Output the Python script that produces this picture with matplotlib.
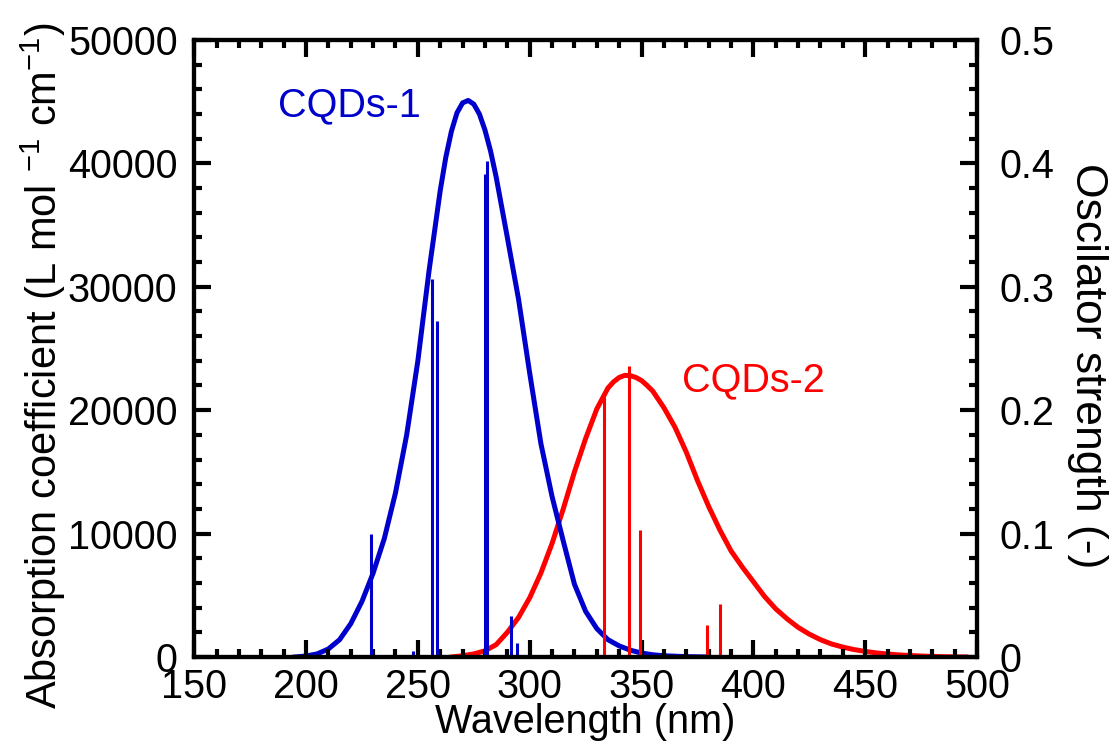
import matplotlib
matplotlib.use('Agg')
import matplotlib.pyplot as plt
from matplotlib.ticker import MultipleLocator

plt.rcParams['font.family'] = ['Liberation Sans', 'DejaVu Sans']
plt.rcParams['mathtext.fontset'] = 'custom'
plt.rcParams['mathtext.rm'] = 'Liberation Sans'
plt.rcParams['mathtext.default'] = 'regular'

# broadened absorption spectra (L mol-1 cm-1)
wl_1 = [195, 200, 205, 210, 215, 220, 225, 230, 235, 240, 245, 250, 255, 260,
        262.5, 265, 267.5, 270, 272.5, 275, 277.5, 280, 282.5, 285, 290, 295,
        300, 305, 310, 315, 320, 325, 330, 335, 340, 345, 350, 355, 360, 370,
        380]
abs_1 = [0, 80, 250, 650, 1400, 2700, 4500, 6800, 9600, 13300, 18000, 24000,
         31300, 37800, 40500, 42600, 44100, 44900, 45100, 44800, 44000, 42700,
         41000, 38900, 34000, 29000, 23000, 17300, 13000, 9400, 5900, 3700,
         2300, 1400, 900, 550, 320, 180, 100, 30, 0]

wl_2 = [265, 270, 275, 280, 285, 290, 295, 300, 305, 310, 315, 320, 325, 330,
        335, 337.5, 340, 342.5, 345, 347.5, 350, 352.5, 355, 360, 365, 370,
        375, 380, 385, 390, 395, 400, 405, 410, 415, 420, 425, 430, 435, 440,
        445, 450, 455, 460, 465, 470, 475, 480, 485, 490, 495]
abs_2 = [0, 100, 250, 500, 1000, 2000, 3200, 4800, 6800, 9200, 12000, 15000,
         17700, 20100, 21800, 22300, 22650, 22820, 22800, 22650, 22400, 22000,
         21550, 20200, 18600, 16600, 14300, 12200, 10300, 8600, 7300, 6100,
         4900, 3900, 3100, 2400, 1850, 1400, 1050, 800, 600, 450, 330, 240,
         170, 120, 80, 50, 25, 10, 0]

# computed transitions (oscillator strength)
stick_wl_1 = [229.2, 248.0, 256.5, 258.6, 279.9, 281.0, 291.8, 294.5, 316.9]
stick_f_1 = [0.100, 0.005, 0.306, 0.272, 0.391, 0.402, 0.033, 0.011, 0.002]
stick_wl_2 = [333.0, 344.2, 349.1, 362.1, 379.1, 385.3]
stick_f_2 = [0.211, 0.236, 0.103, 0.002, 0.026, 0.043]

blue = '#0000cc'
red = '#ff0000'

fig = plt.figure(figsize=(11.16, 7.47), dpi=100)
ax = fig.add_axes([0.174, 0.1205, 0.7015, 0.826])
ax2 = ax.twinx()

ax.plot(wl_2, abs_2, color=red, lw=3.6, solid_joinstyle='round')
ax.plot(wl_1, abs_1, color=blue, lw=3.6, solid_joinstyle='round')

ax2.vlines(stick_wl_1, 0, stick_f_1, color=blue, lw=2.2)
ax2.vlines(stick_wl_2, 0, stick_f_2, color=red, lw=2.2)

ax.set_xlim(150, 500)
ax.set_ylim(0, 50000)
ax2.set_ylim(0, 0.5)

ax.xaxis.set_major_locator(MultipleLocator(50))
ax.xaxis.set_minor_locator(MultipleLocator(10))
ax.yaxis.set_major_locator(MultipleLocator(10000))
ax.yaxis.set_minor_locator(MultipleLocator(2000))
ax2.yaxis.set_major_locator(MultipleLocator(0.1))
ax2.yaxis.set_minor_locator(MultipleLocator(0.02))
ax2.yaxis.set_major_formatter(lambda v, p: '0' if v == 0 else f'{v:.1f}')

for a in (ax, ax2):
    for s in a.spines.values():
        s.set_linewidth(3)
    a.tick_params(which='major', direction='in', length=12, width=3,
                  labelsize=28.5)
    a.tick_params(which='minor', direction='in', length=6, width=3)
    a.set_axisbelow(False)

ax.tick_params(which='both', top=True, right=False)
ax.tick_params(axis='x', pad=8)
ax.tick_params(axis='y', pad=12)
ax2.tick_params(axis='y', pad=16)

ax.set_xlabel('Wavelength (nm)', fontsize=28.5, labelpad=-2)
ax.set_ylabel('Absorption coefficient (L mol $^{-1}$ cm$^{-1}$)', fontsize=30)
ax.yaxis.set_label_coords(-0.161, 0.472)
ax2.set_ylabel('Oscilator strength (-)', fontsize=32, rotation=270)
ax2.yaxis.set_label_coords(1.167, 0.472)

ax.text(187.5, 44700, 'CQDs-1', color=blue, fontsize=28.5, ha='left',
        va='center')
ax.text(368.2, 22450, 'CQDs-2', color=red, fontsize=28.5, ha='left',
        va='center')

fig.savefig('out.png', dpi=100)
